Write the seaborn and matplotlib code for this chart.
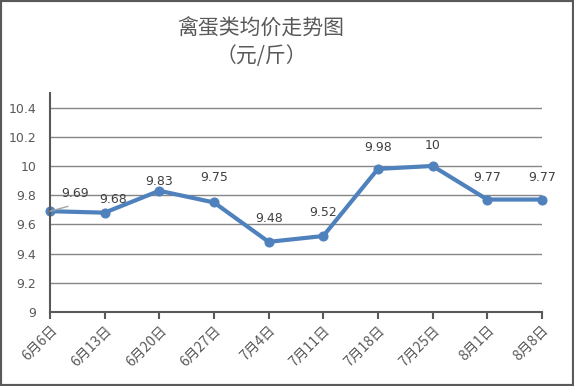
import matplotlib
matplotlib.use('Agg')
import matplotlib.pyplot as plt
import seaborn as sns
import pandas as pd
from matplotlib.patches import Rectangle

dates = ['6月6日', '6月13日', '6月20日', '6月27日', '7月4日',
         '7月11日', '7月18日', '7月25日', '8月1日', '8月8日']
prices = [9.69, 9.68, 9.83, 9.75, 9.48, 9.52, 9.98, 10, 9.77, 9.77]
price_labels = ['9.69', '9.68', '9.83', '9.75', '9.48',
                '9.52', '9.98', '10', '9.77', '9.77']
y_ticks = [9, 9.2, 9.4, 9.6, 9.8, 10, 10.2, 10.4]
y_tick_labels = ['9', '9.2', '9.4', '9.6', '9.8', '10', '10.2', '10.4']

# label offsets in points (style only)
label_offsets = [(18, 8), (6, 5), (0, 2), (0, 13), (0, 12),
                 (0, 12), (0, 11), (0, 10), (0, 11), (0, 11)]

GRAY = '#595959'
LINE = '#4F81BD'


def main():
    sns.set_style('white')
    plt.rcParams['font.family'] = ['Noto Sans CJK SC', 'DejaVu Sans']

    df = pd.DataFrame({'pos': range(len(dates)), 'price': prices})

    fig = plt.figure(figsize=(5.74, 3.86), dpi=100)
    ax = fig.add_axes([0.0871, 0.192, 0.857, 0.567])

    for y in y_ticks[1:]:
        ax.axhline(y, color='#868686', linewidth=1, zorder=0)

    sns.lineplot(data=df, x='pos', y='price', ax=ax, color=LINE,
                 linewidth=3, marker='o', markersize=6.5,
                 markeredgecolor=LINE, clip_on=False)

    for i, (p, lab) in enumerate(zip(prices, price_labels)):
        dx, dy = label_offsets[i]
        ax.annotate(lab, (i, p), xytext=(dx, dy), textcoords='offset points',
                    ha='center', va='bottom', fontsize=9, color='#404040',
                    family='DejaVu Sans')
    # leader line for first label
    ax.annotate('', (0, prices[0]), xytext=(13, 3.5),
                textcoords='offset points',
                arrowprops=dict(arrowstyle='-', color='#A6A6A6', lw=1,
                                shrinkA=0, shrinkB=0))

    ax.set_xlim(0, len(dates) - 1)
    ax.set_ylim(9, 10.5)
    ax.set_yticks(y_ticks)
    ax.set_yticklabels(y_tick_labels, family='DejaVu Sans')
    ax.set_xticks(range(len(dates)))
    ax.set_xticklabels(dates, rotation=45, ha='right',
                       rotation_mode='anchor')
    ax.tick_params(axis='y', length=0, labelsize=9, labelcolor=GRAY, pad=10)
    ax.tick_params(axis='x', length=5, width=1.5, color=GRAY, direction='out',
                   labelsize=10, labelcolor=GRAY, pad=3, bottom=True)
    ax.set_xlabel('')
    ax.set_ylabel('')

    for side in ['top', 'right']:
        ax.spines[side].set_visible(False)
    for side in ['left', 'bottom']:
        ax.spines[side].set_color(GRAY)
        ax.spines[side].set_linewidth(1.5)

    fig.text(0.455, 0.925, '禽蛋类均价走势图', ha='center', va='center',
             fontsize=15, color=GRAY)
    fig.text(0.455, 0.855, '（元/斤）', ha='center', va='center',
             fontsize=15, color=GRAY)

    fig.patches.append(Rectangle((0, 0), 1, 1, transform=fig.transFigure,
                                 fill=False, edgecolor=GRAY, linewidth=3))

    fig.savefig('out.png', dpi=100)


if __name__ == '__main__':
    main()
